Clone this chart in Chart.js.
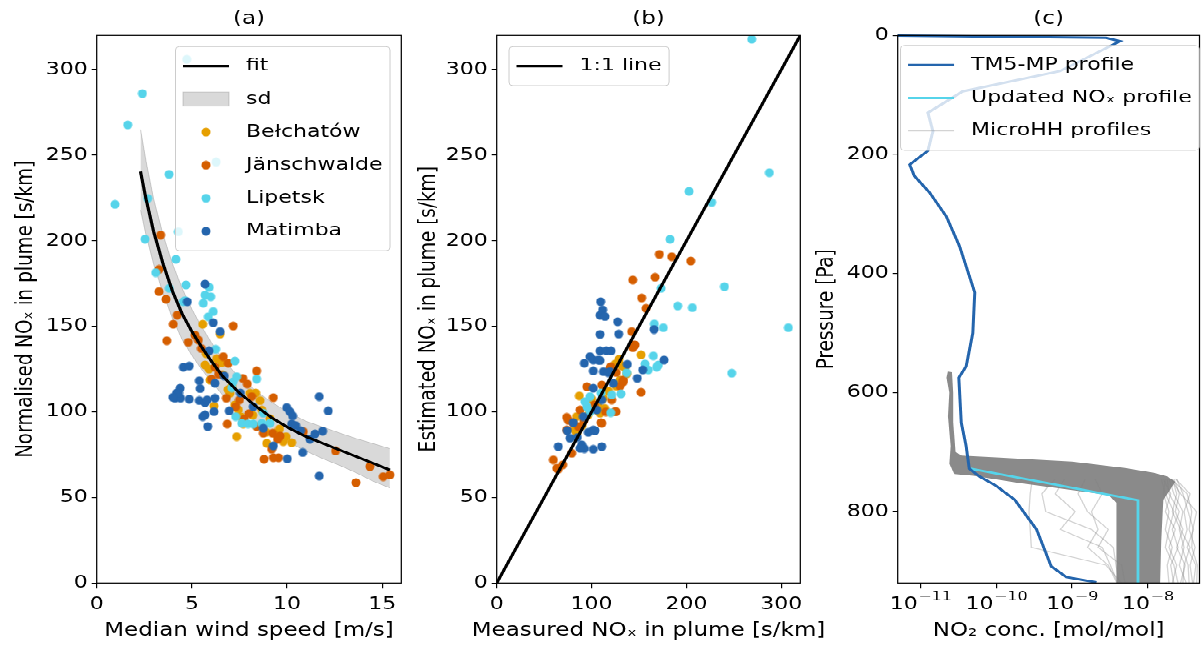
<!DOCTYPE html>
<html>
<head>
<meta charset="utf-8">
<script src="https://cdn.jsdelivr.net/npm/chart.js@4.4.1/dist/chart.umd.min.js"></script>
<style>
  html, body { margin: 0; padding: 0; background: #fff; overflow: hidden; }
  #wrap { width: 1201px; height: 650px; overflow: hidden; }
  #fig { position: relative; width: 1201px; height: 812px; transform: scaleY(0.80049); transform-origin: 0 0; }
  #fig canvas { position: absolute; top: 0; }
</style>
</head>
<body>
<div id="wrap">
  <div id="fig">
    <canvas id="panelA" width="410" height="812" style="left:0"></canvas>
    <canvas id="panelB" width="440" height="812" style="left:410px"></canvas>
    <canvas id="panelC" width="391" height="812" style="left:810px"></canvas>
  </div>
</div>
<script>
// ---- data ----
// (a) wind speed [m/s] vs normalised NOx [s/km]
var belchatowA = [[5.57,151.2],[6.48,145.5],[5.69,127.4],[5.90,125.0],[5.95,118.6],[6.16,103.4],[6.57,128.8],[7.10,115.0],[7.44,101.1],[7.35,85.5],[7.70,93.0],[8.05,110.9],[8.35,111.0],[8.58,106.6],[8.67,101.1],[8.93,81.6],[9.36,87.5],[9.80,82.6],[10.24,82.0],[9.95,85.5],[7.60,97.0],[7.00,110.9],[6.62,121.6],[8.90,88.0],[6.30,131.0],[7.25,104.0],[8.20,98.0],[9.10,96.0],[6.90,113.0],[9.60,90.0],[5.75,134.0]];
var janschwaldeA = [[3.36,203.4],[3.27,183.3],[3.27,170.3],[3.64,165.8],[4.23,156.6],[4.02,151.2],[7.17,150.2],[3.68,141.6],[4.81,140.7],[5.16,144.9],[5.34,142.0],[6.65,132.3],[6.91,128.4],[6.21,126.1],[6.04,119.1],[7.67,119.6],[7.91,116.3],[8.40,123.9],[6.81,108.0],[7.50,107.0],[7.74,95.7],[6.86,92.9],[9.28,108.3],[9.24,87.5],[9.63,85.9],[9.19,78.1],[9.28,73.2],[9.55,73.2],[8.79,72.3],[8.75,87.5],[10.85,88.4],[12.55,77.1],[14.35,68.0],[13.62,58.6],[15.05,62.1],[15.40,63.1],[8.14,108.9],[8.40,91.4],[5.50,137.0],[6.40,122.0],[7.30,103.0],[8.00,99.0],[9.50,84.0]];
var lipetskA = [[0.96,221.3],[1.63,267.7],[2.40,286.0],[4.73,306.0],[6.27,246.0],[4.29,205.3],[3.80,238.9],[2.68,224.8],[2.54,201.0],[4.16,189.2],[3.10,181.4],[4.69,174.2],[3.81,172.2],[5.69,168.3],[5.99,167.3],[4.55,164.4],[5.60,163.5],[5.91,172.8],[6.12,158.6],[5.86,155.6],[4.64,165.0],[6.25,136.6],[7.26,129.7],[8.40,119.2],[7.17,117.6],[7.35,120.6],[7.30,97.2],[7.62,93.3],[7.95,93.0],[8.22,92.9],[8.67,93.3],[8.75,99.2],[9.10,93.3],[7.10,114.0]];
var matimbaA = [[5.69,174.7],[4.76,164.4],[6.12,152.1],[6.48,146.9],[5.90,135.6],[4.55,126.1],[4.86,126.8],[5.39,118.2],[5.43,113.6],[4.38,113.8],[4.20,111.0],[4.11,108.0],[4.40,108.0],[4.86,107.4],[5.39,106.6],[5.69,105.4],[5.80,107.0],[6.21,108.0],[6.16,100.1],[5.69,98.2],[5.57,97.2],[5.83,91.4],[6.21,116.7],[6.70,121.0],[6.96,100.5],[8.22,103.0],[8.75,90.4],[9.28,80.1],[10.01,72.5],[9.98,102.5],[10.15,100.1],[10.29,97.6],[10.24,92.9],[10.45,92.0],[10.71,89.0],[10.82,76.2],[11.20,84.0],[11.47,87.1],[11.87,88.7],[11.69,108.9],[12.16,100.5],[11.69,62.5],[7.55,111.0],[4.30,111.0],[4.00,108.5]];
var fitWind = [2.3,2.6,3.0,3.5,4.0,4.5,5.0,5.5,6.0,6.6,7.5,8.4,9.2,10.1,11.0,11.9,12.8,13.6,14.5,15.4];
var fitNox = [240.5,224,205,186,170,157,147,138,130,121,111,103,96.5,90.5,85.5,81.5,77.5,74,70,66];
var sdUpper = [265,246,224,203,186,172,160,150,141,131,120,112,105.5,99.5,94.5,91,87.5,84.5,81.5,78.5];
var sdLower = [218,203,186,169,154,142,133,125,118,110,101,94,88,82,77,72.5,68.5,64.5,59.5,55.5];

// (b) measured vs estimated NOx [s/km]
var belchatowB = [[152.1,133.3],[128.9,130.7],[125.0,128.0],[131.7,127.0],[87.1,109.3],[84.2,97.2],[82.5,89.4],[84.2,87.5],[108.9,99.2],[107.0,103.0],[113.8,102.0],[100.1,107.4],[137.0,122.2],[130.0,118.6],[126.0,115.0],[112.4,108.0],[106.0,101.0],[118.0,112.0],[90.0,92.0],[96.0,98.0],[135.0,126.0]];
var janschwaldeB = [[171.4,192.1],[184.5,190.7],[204.5,188.2],[143.4,177.1],[166.9,178.7],[152.8,166.6],[157.4,160.5],[142.3,146.9],[145.8,139.1],[143.5,137.5],[120.2,126.4],[126.0,123.0],[133.5,117.6],[130.0,115.0],[152.1,111.4],[95.0,114.7],[110.7,115.7],[87.8,101.1],[103.0,104.0],[121.2,107.0],[125.8,100.1],[110.0,93.7],[73.8,96.8],[80.5,93.5],[86.1,91.4],[73.8,89.4],[79.1,75.8],[59.7,71.9],[63.3,67.0],[64.9,66.5],[69.6,69.0],[110.7,93.3],[124.7,100.1],[133.5,118.6],[119.4,125.5],[144.0,139.1],[75.5,95.0],[92.0,95.0],[115.0,100.0]];
var lipetskB = [[268.8,317.8],[287.4,239.8],[202.7,228.9],[226.6,222.5],[182.7,200.9],[240.0,173.2],[173.2,172.2],[190.8,161.9],[206.2,160.9],[307.4,149.2],[247.7,122.6],[166.1,151.4],[175.6,149.2],[165.1,132.7],[156.3,128.0],[159.8,124.5],[168.6,126.1],[170.4,127.4],[137.0,122.9],[131.0,110.5],[121.2,109.9],[110.0,111.0],[98.3,108.9],[95.0,103.0],[98.3,100.0],[93.0,106.0],[120.2,99.5]];
var matimbaB = [[109.6,164.4],[111.7,159.6],[108.9,156.5],[114.1,155.7],[127.5,152.7],[108.9,145.3],[128.6,145.5],[108.9,135.6],[115.5,135.8],[120.5,135.6],[98.3,132.3],[92.4,128.4],[101.8,130.3],[108.9,130.0],[101.8,123.9],[112.5,123.5],[119.4,123.5],[137.7,127.8],[153.9,124.5],[148.2,119.6],[165.8,148.2],[176.4,130.3],[122.9,116.7],[101.8,113.8],[110.7,107.0],[105.4,101.1],[80.7,93.7],[91.3,97.2],[74.4,89.0],[77.3,84.6],[64.9,79.7],[89.6,80.7],[92.4,78.5],[101.8,89.4],[96.5,88.0],[101.8,78.1],[110.7,79.7],[85.0,85.0],[103.6,89.0],[107.1,130.3],[117.6,122.9],[87.8,78.7]];
var oneToOne = [0, 320];

// (c) NO2 profiles: concentration [mol/mol] vs pressure [Pa]
var tm5Conc = [3e-12,2.8e-9,4.3e-9,6.9e-10,3.6e-11,1.25e-11,1.46e-11,1.25e-11,7.2e-12,8.3e-12,1.32e-11,2.19e-11,3.27e-11,5.2e-11,4.9e-11,4.0e-11,3.2e-11,3.45e-11,4.0e-11,4.4e-11,6.0e-11,1.0e-10,1.75e-10,3.4e-10,5.3e-10,8.4e-10,2.1e-9];
var tm5P = [0,4,9.6,60,94,130,161,194,217,236,264,304,354,432,500,556,575,651,690,728,741,757,780,830,892,910,919];
var updatedConc = [4.6e-11,7.4e-9,7.4e-9];
var updatedP = [728,781,920];
var bandConc = [2.3e-11,2.6e-11,2.7e-11,2.7e-11,2.9e-11,3.5e-11,1e-10,1e-9,5e-9,1.2e-8,1.8e-8,2.3e-8,2.0e-8,1.6e-8,1.5e-8,1.45e-8,3.9e-9,3.9e-9,3.8e-9,3.0e-9,1e-9,2e-10,5e-11,2.8e-11,2.4e-11,2.5e-11,2.3e-11,2.4e-11,2.2e-11];
var bandP = [565,566,600,650,700,706,709,716,727,735,741,750,762,780,850,920,920,850,785,772,764,752,740,737,720,690,640,600,575];
var microLevels = [745,770,800,830,860,890,920];
var microConc = [
  [2.2e-8,2.6e-8,2.3e-8,2.9e-8,2.4e-8,3.1e-8,2.7e-8],
  [2.0e-8,3.3e-8,3.8e-8,3.5e-8,4.2e-8,3.6e-8,3.9e-8],
  [1.8e-8,1.9e-8,2.6e-8,2.1e-8,2.5e-8,2.0e-8,2.2e-8],
  [2.4e-8,2.9e-8,3.4e-8,4.0e-8,3.3e-8,4.3e-8,4.0e-8],
  [1.7e-8,1.6e-8,1.9e-8,1.7e-8,2.1e-8,1.8e-8,1.9e-8],
  [1.9e-8,2.2e-8,2.9e-8,2.6e-8,3.0e-8,2.6e-8,3.2e-8],
  [2.1e-8,2.4e-8,2.1e-8,2.7e-8,3.6e-8,3.0e-8,2.9e-8],
  [1.6e-8,2.0e-8,1.7e-8,2.3e-8,1.9e-8,2.4e-8,2.1e-8],
  [2.3e-8,3.6e-8,3.0e-8,3.3e-8,2.8e-8,3.4e-8,3.5e-8],
  [1.5e-8,1.7e-8,2.2e-8,1.9e-8,1.7e-8,2.2e-8,2.5e-8],
  [2.0e-8,2.7e-8,4.4e-8,3.9e-8,3.8e-8,4.5e-8,4.4e-8],
  [3e-10,2.8e-10,2.7e-10,2.8e-10,2.9e-10,2.8e-9,4.5e-9],
  [8e-10,6e-10,1.1e-9,7e-10,2.5e-9,3.2e-9,4e-9],
  [1.5e-9,1.2e-9,1.6e-9,3e-9,2.2e-9,4.5e-9,5e-9],
  [6e-10,4e-10,4.5e-10,1.8e-9,3.5e-9,3.8e-9,4.2e-9],
  [2e-9,2.5e-9,1.8e-9,2.2e-9,1.6e-9,3e-9,3.9e-9]
];

// tick positions
var windTicks = [0, 5, 10, 15];
var noxTicks = [0, 50, 100, 150, 200, 250, 300];
var measTicks = [0, 100, 200, 300];
var pressTicks = [0, 200, 400, 600, 800];
var concTicks = [1e-11, 1e-10, 1e-9, 1e-8];

// ---- styling ----
var BEL = '#e69f00', JAN = '#d55e00', LIP = '#56d4ea', MAT = '#2465ad';
var MICRO = 'rgba(128,128,128,0.35)';
var SQUASH = 650 / 812; // the whole figure is squashed vertically by CSS
var X_AXIS_H = 83.7;

Chart.defaults.font.family = '"DejaVu Sans", sans-serif';
Chart.defaults.color = '#000';

function dot(color) {
  var c = document.createElement('canvas');
  c.width = 10;
  c.height = 12;
  var g = c.getContext('2d');
  g.fillStyle = color;
  g.beginPath();
  g.ellipse(5, 6, 4.5, 4.5 / SQUASH, 0, 0, Math.PI * 2);
  g.fill();
  return c;
}

function pairs(list) {
  return list.map(function (p) { return { x: p[0], y: p[1] }; });
}

function zip(xs, ys) {
  return xs.map(function (x, i) { return { x: x, y: ys[i] }; });
}

function scatterSet(label, list, color, order) {
  return { label: label, data: pairs(list), pointStyle: dot(color), pointRadius: 4.5, order: order };
}

function lineSet(label, data, color, width, order) {
  return {
    label: label, data: data, showLine: true, borderColor: color, borderWidth: width,
    pointRadius: 0, fill: false, tension: 0, order: order
  };
}

function axis(o) {
  return {
    type: o.type || 'linear',
    min: o.min,
    max: o.max,
    reverse: !!o.reverse,
    afterBuildTicks: function (s) { s.ticks = o.ticks.map(function (v) { return { value: v }; }); },
    afterFit: function (s) {
      if (o.width) s.width = o.width;
      if (o.height) s.height = o.height;
    },
    grid: { drawOnChartArea: false, drawTicks: true, tickLength: o.tickLength, color: '#000', lineWidth: 1.2 },
    border: { display: false },
    ticks: {
      display: !o.hideLabels,
      font: { size: 22 }, color: '#000', padding: o.tickPad, maxRotation: 0, autoSkip: false,
      callback: function (v) { return String(v); }
    },
    title: { display: !!o.title, text: o.title || '', color: '#000', font: { size: 23 }, padding: o.titlePad }
  };
}

function xAxis(o) {
  o.height = X_AXIS_H;
  o.tickLength = 7;
  o.tickPad = 7;
  o.titlePad = 0;
  return axis(o);
}

function yAxis(o) {
  o.tickLength = 5;
  o.tickPad = 4;
  o.titlePad = { top: o.titleOffset, bottom: 0 };
  return axis(o);
}

// spines on all four sides
var frame = {
  id: 'frame',
  afterDatasetsDraw: function (chart) {
    var a = chart.chartArea, ctx = chart.ctx;
    ctx.save();
    ctx.strokeStyle = '#000';
    ctx.lineWidth = 1.25;
    ctx.strokeRect(a.left, a.top, a.right - a.left, a.bottom - a.top);
    ctx.restore();
  }
};

// x-axis label, centred under the axes and allowed to be wider than them
function xTitle(text) {
  return {
    id: 'xTitle',
    afterDraw: function (chart) {
      var a = chart.chartArea, ctx = chart.ctx;
      ctx.save();
      ctx.font = '23px "DejaVu Sans"';
      ctx.fillStyle = '#000';
      ctx.textAlign = 'center';
      ctx.textBaseline = 'middle';
      ctx.fillText(text, (a.left + a.right) / 2, chart.height - 13.8 - 10);
      ctx.restore();
    }
  };
}

// 10^n tick labels with a raised exponent
function powerTickLabels(values) {
  return {
    id: 'powerTickLabels',
    afterDraw: function (chart) {
      var ctx = chart.ctx, s = chart.scales.x;
      var y = chart.chartArea.bottom + 7 + 7 + 13.2;
      ctx.save();
      ctx.fillStyle = '#000';
      ctx.textBaseline = 'middle';
      ctx.textAlign = 'left';
      values.forEach(function (v) {
        var base = '10', exp = '\u2212' + String(-Math.round(Math.log10(v)));
        ctx.font = '22px "DejaVu Sans"';
        var wb = ctx.measureText(base).width;
        ctx.font = '16px "DejaVu Sans"';
        var we = ctx.measureText(exp).width;
        var x0 = s.getPixelForValue(v) - (wb + we) / 2;
        ctx.font = '22px "DejaVu Sans"';
        ctx.fillText(base, x0, y);
        ctx.font = '16px "DejaVu Sans"';
        ctx.fillText(exp, x0 + wb + 0.5, y - 10);
      });
      ctx.restore();
    }
  };
}

// matplotlib-style legend box drawn inside the axes
function insetLegend(cfg) {
  return {
    id: 'insetLegend',
    afterDatasetsDraw: function (chart) {
      var ctx = chart.ctx, a = chart.chartArea;
      var padX = 7.5, handleW = 46, gap = 17;
      var rowH = 33 / SQUASH, padY = 3 / SQUASH;
      ctx.save();
      ctx.font = '22px "DejaVu Sans"';
      var textW = Math.max.apply(null, cfg.items.map(function (it) { return ctx.measureText(it.label).width; }));
      var w = padX * 2 + handleW + gap + textW;
      var h = cfg.items.length * rowH + padY * 2;
      var x0 = cfg.anchor === 'right' ? a.right - cfg.dx - w : a.left + cfg.dx;
      var y0 = a.top + cfg.dy / SQUASH;
      ctx.fillStyle = 'rgba(255,255,255,0.8)';
      ctx.strokeStyle = '#cccccc';
      ctx.lineWidth = 1;
      ctx.beginPath();
      if (ctx.roundRect) ctx.roundRect(x0, y0, w, h, 4); else ctx.rect(x0, y0, w, h);
      ctx.fill();
      ctx.stroke();
      cfg.items.forEach(function (it, i) {
        var cy = y0 + padY + rowH * (i + 0.5);
        var hx = x0 + padX;
        if (it.type === 'line') {
          ctx.strokeStyle = it.color;
          ctx.lineWidth = it.width;
          ctx.beginPath();
          ctx.moveTo(hx, cy);
          ctx.lineTo(hx + handleW, cy);
          ctx.stroke();
        } else if (it.type === 'patch') {
          var ph = 14 / SQUASH;
          ctx.fillStyle = 'rgba(128,128,128,0.3)';
          ctx.strokeStyle = 'rgba(128,128,128,0.35)';
          ctx.lineWidth = 1;
          ctx.fillRect(hx, cy - ph / 2, handleW, ph);
          ctx.strokeRect(hx, cy - ph / 2, handleW, ph);
        } else {
          var d = dot(it.color);
          ctx.drawImage(d, hx + handleW / 2 - d.width / 2, cy - d.height / 2);
        }
        ctx.fillStyle = '#000';
        ctx.textBaseline = 'middle';
        ctx.textAlign = 'left';
        ctx.fillText(it.label, hx + handleW + gap, cy);
      });
      ctx.restore();
    }
  };
}

function baseOptions(title, padRight, scales) {
  return {
    responsive: false,
    animation: false,
    devicePixelRatio: 1,
    events: [],
    layout: { padding: { left: 0, right: padRight, top: 0, bottom: 0 } },
    plugins: {
      legend: { display: false },
      tooltip: { enabled: false },
      title: {
        display: true, text: title, fullSize: false, color: '#000',
        font: { size: 23, weight: 'normal' }, padding: { top: 10, bottom: 6.7 }
      }
    },
    scales: scales
  };
}

// ---- (a) ----
var sdBand = lineSet('sd', zip(fitWind, sdUpper), 'rgba(128,128,128,0.35)', 1, 5);
sdBand.fill = '+1';
sdBand.backgroundColor = 'rgba(128,128,128,0.3)';

new Chart(document.getElementById('panelA'), {
  type: 'scatter',
  data: {
    datasets: [
      lineSet('fit', zip(fitWind, fitNox), '#000', 3.2, 0),
      scatterSet('Matimba', matimbaA, MAT, 1),
      scatterSet('Lipetsk', lipetskA, LIP, 2),
      scatterSet('Jänschwalde', janschwaldeA, JAN, 3),
      scatterSet('Bełchatów', belchatowA, BEL, 4),
      sdBand,
      lineSet('sd low', zip(fitWind, sdLower), 'rgba(128,128,128,0.35)', 1, 6)
    ]
  },
  options: baseOptions('(a)', 8.7, {
    x: xAxis({ min: 0, max: 16, ticks: windTicks }),
    y: yAxis({ min: 0, max: 320, ticks: noxTicks, width: 96.7, titleOffset: 11.8, title: 'Normalised NO\u2093 in plume [s/km]' })
  }),
  plugins: [frame, xTitle('Median wind speed [m/s]'), insetLegend({
    anchor: 'right', dx: 11.3, dy: 11.2,
    items: [
      { type: 'line', label: 'fit', color: '#000', width: 3.2 },
      { type: 'patch', label: 'sd' },
      { type: 'dot', label: 'Bełchatów', color: BEL },
      { type: 'dot', label: 'Jänschwalde', color: JAN },
      { type: 'dot', label: 'Lipetsk', color: LIP },
      { type: 'dot', label: 'Matimba', color: MAT }
    ]
  })]
});

// ---- (b) ----
new Chart(document.getElementById('panelB'), {
  type: 'scatter',
  data: {
    datasets: [
      lineSet('1:1 line', zip(oneToOne, oneToOne), '#000', 3.2, 0),
      scatterSet('Matimba', matimbaB, MAT, 1),
      scatterSet('Lipetsk', lipetskB, LIP, 2),
      scatterSet('Jänschwalde', janschwaldeB, JAN, 3),
      scatterSet('Bełchatów', belchatowB, BEL, 4)
    ]
  },
  options: baseOptions('(b)', 49.7, {
    x: xAxis({ min: 0, max: 320, ticks: measTicks }),
    y: yAxis({ min: 0, max: 320, ticks: noxTicks, width: 86.7, titleOffset: 5.2, title: 'Estimated NO\u2093 in plume [s/km]' })
  }),
  plugins: [frame, xTitle('Measured NO\u2093 in plume [s/km]'), insetLegend({
    anchor: 'left', dx: 12.3, dy: 11.2,
    items: [{ type: 'line', label: '1:1 line', color: '#000', width: 3.2 }]
  })]
});

// ---- (c) ----
var tm5Set = lineSet('TM5-MP profile', zip(tm5Conc, tm5P), MAT, 3, 0);
tm5Set.clip = { left: 0, top: 4, right: 0, bottom: 0 };
var bandSet = lineSet('MicroHH core', zip(bandConc, bandP), 'rgba(0,0,0,0)', 0, 5);
bandSet.fill = 'shape';
bandSet.backgroundColor = 'rgba(128,128,128,0.92)';
var profileSets = [tm5Set, lineSet('Updated NOx profile', zip(updatedConc, updatedP), LIP, 2.8, 1)];
microConc.forEach(function (row, i) {
  profileSets.push(lineSet('MicroHH ' + (i + 1), zip(row, microLevels), MICRO, 1.3, 3));
});
profileSets.push(bandSet);

new Chart(document.getElementById('panelC'), {
  type: 'scatter',
  data: { datasets: profileSets },
  options: baseOptions('(c)', 1.5, {
    x: xAxis({ type: 'logarithmic', min: 5e-12, max: 4.8e-8, ticks: concTicks, hideLabels: true }),
    y: yAxis({ min: 0, max: 920, reverse: true, ticks: pressTicks, width: 87.7, titleOffset: 3.2, title: 'Pressure [Pa]' })
  }),
  plugins: [frame, xTitle('NO\u2082 conc. [mol/mol]'), powerTickLabels(concTicks), insetLegend({
    anchor: 'right', dx: 0.3, dy: 10,
    items: [
      { type: 'line', label: 'TM5-MP profile', color: MAT, width: 3 },
      { type: 'line', label: 'Updated NO\u2093 profile', color: LIP, width: 3 },
      { type: 'line', label: 'MicroHH profiles', color: MICRO, width: 1.5 }
    ]
  })]
});
</script>
</body>
</html>
